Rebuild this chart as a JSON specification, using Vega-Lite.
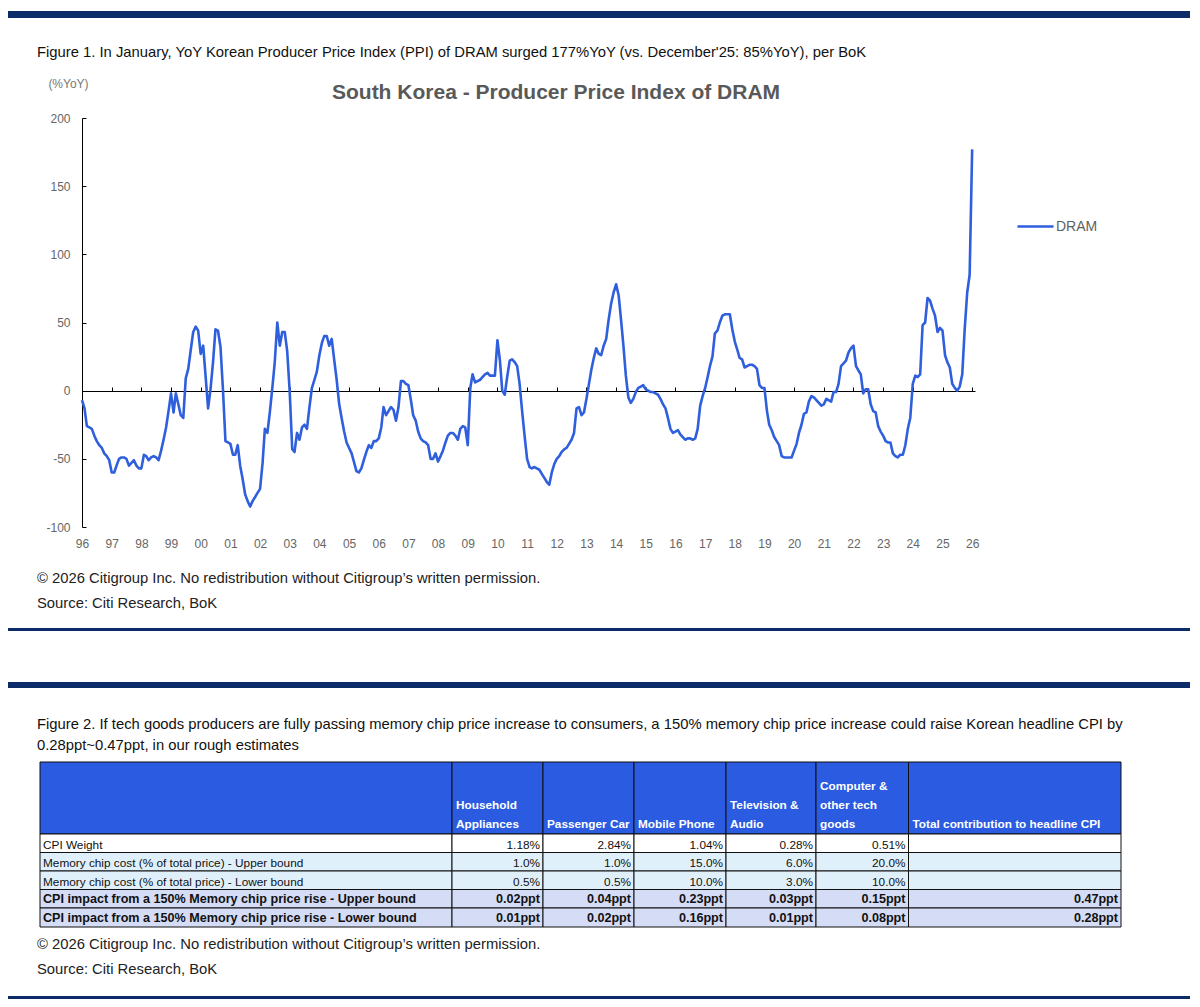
{
  "$schema": "https://vega.github.io/schema/vega-lite/v6.json",
  "background": "white",
  "padding": {"left": 8, "top": 11, "right": 10, "bottom": 8},
  "spacing": 0,
  "bounds": "flush",
  "resolve": {"scale": {"color": "independent"}, "legend": {"color": "independent"}},
  "config": {
    "view": {"stroke": null},
    "title": {"font": "Liberation Sans", "fontWeight": "normal", "color": "#111111", "anchor": "start"}
  },
  "vconcat": [
    {
      "width": 1182,
      "height": 7,
      "view": {"fill": "#0b2b69"},
      "title": {
        "text": "Figure 1. In January, YoY Korean Producer Price Index (PPI) of DRAM surged 177%YoY (vs. December'25: 85%YoY), per BoK",
        "orient": "bottom", "anchor": "start", "dx": 29, "offset": 27, "fontSize": 14.8
      },
      "data": {"values": []},
      "mark": "rule",
      "encoding": {}
    },
    {
      "width": 1182,
      "height": 610,
      "title": {
        "text": "South Korea - Producer Price Index of DRAM",
        "orient": "top", "anchor": "middle", "dx": -43, "offset": -85,
        "font": "Liberation Sans", "fontSize": 21, "fontWeight": "bold", "color": "#595959"
      },
      "resolve": {"axis": {"x": "independent"}},
      "layer": [
        {
          "data": {"values": [
            {"d":"1996-01","v":-7},{"d":"1996-02","v":-13},{"d":"1996-03","v":-26},{"d":"1996-04","v":-27},{"d":"1996-05","v":-28},{"d":"1996-06","v":-33},{"d":"1996-07","v":-37},{"d":"1996-08","v":-40},{"d":"1996-09","v":-42},{"d":"1996-10","v":-46},{"d":"1996-11","v":-48},{"d":"1996-12","v":-51},
            {"d":"1997-01","v":-60},{"d":"1997-02","v":-60},{"d":"1997-03","v":-55},{"d":"1997-04","v":-50},{"d":"1997-05","v":-49},{"d":"1997-06","v":-49},{"d":"1997-07","v":-50},{"d":"1997-08","v":-55},{"d":"1997-09","v":-53},{"d":"1997-10","v":-51},{"d":"1997-11","v":-55},{"d":"1997-12","v":-57},
            {"d":"1998-01","v":-57},{"d":"1998-02","v":-47},{"d":"1998-03","v":-48},{"d":"1998-04","v":-51},{"d":"1998-05","v":-49},{"d":"1998-06","v":-48},{"d":"1998-07","v":-49},{"d":"1998-08","v":-51},{"d":"1998-09","v":-44},{"d":"1998-10","v":-36},{"d":"1998-11","v":-27},{"d":"1998-12","v":-15},
            {"d":"1999-01","v":-2},{"d":"1999-02","v":-16},{"d":"1999-03","v":-2},{"d":"1999-04","v":-10},{"d":"1999-05","v":-18},{"d":"1999-06","v":-20},{"d":"1999-07","v":9},{"d":"1999-08","v":16},{"d":"1999-09","v":30},{"d":"1999-10","v":43},{"d":"1999-11","v":47},{"d":"1999-12","v":44},
            {"d":"2000-01","v":27},{"d":"2000-02","v":33},{"d":"2000-03","v":11},{"d":"2000-04","v":-13},{"d":"2000-05","v":1},{"d":"2000-06","v":21},{"d":"2000-07","v":45},{"d":"2000-08","v":44},{"d":"2000-09","v":32},{"d":"2000-10","v":1},{"d":"2000-11","v":-37},{"d":"2000-12","v":-38},
            {"d":"2001-01","v":-39},{"d":"2001-02","v":-47},{"d":"2001-03","v":-47},{"d":"2001-04","v":-40},{"d":"2001-05","v":-55},{"d":"2001-06","v":-65},{"d":"2001-07","v":-76},{"d":"2001-08","v":-81},{"d":"2001-09","v":-85},{"d":"2001-10","v":-81},{"d":"2001-11","v":-78},{"d":"2001-12","v":-75},
            {"d":"2002-01","v":-72},{"d":"2002-02","v":-53},{"d":"2002-03","v":-28},{"d":"2002-04","v":-31},{"d":"2002-05","v":-16},{"d":"2002-06","v":2},{"d":"2002-07","v":21},{"d":"2002-08","v":50},{"d":"2002-09","v":33},{"d":"2002-10","v":43},{"d":"2002-11","v":43},{"d":"2002-12","v":29},
            {"d":"2003-01","v":-1},{"d":"2003-02","v":-43},{"d":"2003-03","v":-45},{"d":"2003-04","v":-31},{"d":"2003-05","v":-36},{"d":"2003-06","v":-27},{"d":"2003-07","v":-25},{"d":"2003-08","v":-28},{"d":"2003-09","v":-12},{"d":"2003-10","v":2},{"d":"2003-11","v":8},{"d":"2003-12","v":14},
            {"d":"2004-01","v":26},{"d":"2004-02","v":35},{"d":"2004-03","v":40},{"d":"2004-04","v":40},{"d":"2004-05","v":33},{"d":"2004-06","v":38},{"d":"2004-07","v":23},{"d":"2004-08","v":8},{"d":"2004-09","v":-10},{"d":"2004-10","v":-20},{"d":"2004-11","v":-30},{"d":"2004-12","v":-38},
            {"d":"2005-01","v":-42},{"d":"2005-02","v":-46},{"d":"2005-03","v":-52},{"d":"2005-04","v":-59},{"d":"2005-05","v":-60},{"d":"2005-06","v":-57},{"d":"2005-07","v":-51},{"d":"2005-08","v":-45},{"d":"2005-09","v":-40},{"d":"2005-10","v":-42},{"d":"2005-11","v":-37},{"d":"2005-12","v":-37},
            {"d":"2006-01","v":-35},{"d":"2006-02","v":-27},{"d":"2006-03","v":-12},{"d":"2006-04","v":-18},{"d":"2006-05","v":-15},{"d":"2006-06","v":-12},{"d":"2006-07","v":-14},{"d":"2006-08","v":-22},{"d":"2006-09","v":-12},{"d":"2006-10","v":7},{"d":"2006-11","v":7},{"d":"2006-12","v":5},
            {"d":"2007-01","v":4},{"d":"2007-02","v":-7},{"d":"2007-03","v":-18},{"d":"2007-04","v":-22},{"d":"2007-05","v":-30},{"d":"2007-06","v":-35},{"d":"2007-07","v":-37},{"d":"2007-08","v":-38},{"d":"2007-09","v":-40},{"d":"2007-10","v":-50},{"d":"2007-11","v":-50},{"d":"2007-12","v":-46},
            {"d":"2008-01","v":-52},{"d":"2008-02","v":-48},{"d":"2008-03","v":-44},{"d":"2008-04","v":-38},{"d":"2008-05","v":-33},{"d":"2008-06","v":-31},{"d":"2008-07","v":-31},{"d":"2008-08","v":-33},{"d":"2008-09","v":-36},{"d":"2008-10","v":-28},{"d":"2008-11","v":-26},{"d":"2008-12","v":-27},
            {"d":"2009-01","v":-40},{"d":"2009-02","v":2},{"d":"2009-03","v":12},{"d":"2009-04","v":6},{"d":"2009-05","v":7},{"d":"2009-06","v":8},{"d":"2009-07","v":10},{"d":"2009-08","v":12},{"d":"2009-09","v":13},{"d":"2009-10","v":11},{"d":"2009-11","v":11},{"d":"2009-12","v":11},
            {"d":"2010-01","v":37},{"d":"2010-02","v":22},{"d":"2010-03","v":0},{"d":"2010-04","v":-3},{"d":"2010-05","v":10},{"d":"2010-06","v":22},{"d":"2010-07","v":23},{"d":"2010-08","v":21},{"d":"2010-09","v":18},{"d":"2010-10","v":5},{"d":"2010-11","v":-15},{"d":"2010-12","v":-33},
            {"d":"2011-01","v":-50},{"d":"2011-02","v":-56},{"d":"2011-03","v":-57},{"d":"2011-04","v":-56},{"d":"2011-05","v":-57},{"d":"2011-06","v":-58},{"d":"2011-07","v":-61},{"d":"2011-08","v":-64},{"d":"2011-09","v":-67},{"d":"2011-10","v":-69},{"d":"2011-11","v":-60},{"d":"2011-12","v":-54},
            {"d":"2012-01","v":-50},{"d":"2012-02","v":-48},{"d":"2012-03","v":-45},{"d":"2012-04","v":-43},{"d":"2012-05","v":-42},{"d":"2012-06","v":-39},{"d":"2012-07","v":-36},{"d":"2012-08","v":-31},{"d":"2012-09","v":-13},{"d":"2012-10","v":-12},{"d":"2012-11","v":-18},{"d":"2012-12","v":-16},
            {"d":"2013-01","v":-6},{"d":"2013-02","v":5},{"d":"2013-03","v":15},{"d":"2013-04","v":24},{"d":"2013-05","v":31},{"d":"2013-06","v":27},{"d":"2013-07","v":26},{"d":"2013-08","v":33},{"d":"2013-09","v":38},{"d":"2013-10","v":52},{"d":"2013-11","v":64},{"d":"2013-12","v":72},
            {"d":"2014-01","v":78},{"d":"2014-02","v":70},{"d":"2014-03","v":53},{"d":"2014-04","v":33},{"d":"2014-05","v":11},{"d":"2014-06","v":-5},{"d":"2014-07","v":-9},{"d":"2014-08","v":-6},{"d":"2014-09","v":-1},{"d":"2014-10","v":2},{"d":"2014-11","v":3},{"d":"2014-12","v":4},
            {"d":"2015-01","v":1},{"d":"2015-02","v":0},{"d":"2015-03","v":-1},{"d":"2015-04","v":-1},{"d":"2015-05","v":-2},{"d":"2015-06","v":-3},{"d":"2015-07","v":-6},{"d":"2015-08","v":-10},{"d":"2015-09","v":-13},{"d":"2015-10","v":-20},{"d":"2015-11","v":-28},{"d":"2015-12","v":-31},
            {"d":"2016-01","v":-30},{"d":"2016-02","v":-29},{"d":"2016-03","v":-32},{"d":"2016-04","v":-34},{"d":"2016-05","v":-36},{"d":"2016-06","v":-35},{"d":"2016-07","v":-35},{"d":"2016-08","v":-36},{"d":"2016-09","v":-35},{"d":"2016-10","v":-28},{"d":"2016-11","v":-11},{"d":"2016-12","v":-4},
            {"d":"2017-01","v":2},{"d":"2017-02","v":10},{"d":"2017-03","v":18},{"d":"2017-04","v":25},{"d":"2017-05","v":42},{"d":"2017-06","v":44},{"d":"2017-07","v":50},{"d":"2017-08","v":55},{"d":"2017-09","v":56},{"d":"2017-10","v":56},{"d":"2017-11","v":56},{"d":"2017-12","v":45},
            {"d":"2018-01","v":36},{"d":"2018-02","v":30},{"d":"2018-03","v":24},{"d":"2018-04","v":23},{"d":"2018-05","v":17},{"d":"2018-06","v":18},{"d":"2018-07","v":19},{"d":"2018-08","v":19},{"d":"2018-09","v":18},{"d":"2018-10","v":16},{"d":"2018-11","v":4},{"d":"2018-12","v":2},
            {"d":"2019-01","v":2},{"d":"2019-02","v":-15},{"d":"2019-03","v":-25},{"d":"2019-04","v":-29},{"d":"2019-05","v":-34},{"d":"2019-06","v":-37},{"d":"2019-07","v":-40},{"d":"2019-08","v":-48},{"d":"2019-09","v":-49},{"d":"2019-10","v":-49},{"d":"2019-11","v":-49},{"d":"2019-12","v":-49},
            {"d":"2020-01","v":-44},{"d":"2020-02","v":-39},{"d":"2020-03","v":-31},{"d":"2020-04","v":-25},{"d":"2020-05","v":-17},{"d":"2020-06","v":-16},{"d":"2020-07","v":-8},{"d":"2020-08","v":-4},{"d":"2020-09","v":-5},{"d":"2020-10","v":-7},{"d":"2020-11","v":-9},{"d":"2020-12","v":-11},
            {"d":"2021-01","v":-10},{"d":"2021-02","v":-6},{"d":"2021-03","v":-7},{"d":"2021-04","v":-8},{"d":"2021-05","v":-1},{"d":"2021-06","v":-1},{"d":"2021-07","v":5},{"d":"2021-08","v":18},{"d":"2021-09","v":20},{"d":"2021-10","v":22},{"d":"2021-11","v":28},{"d":"2021-12","v":31},
            {"d":"2022-01","v":33},{"d":"2022-02","v":18},{"d":"2022-03","v":15},{"d":"2022-04","v":12},{"d":"2022-05","v":-2},{"d":"2022-06","v":1},{"d":"2022-07","v":1},{"d":"2022-08","v":-10},{"d":"2022-09","v":-15},{"d":"2022-10","v":-16},{"d":"2022-11","v":-26},{"d":"2022-12","v":-30},
            {"d":"2023-01","v":-33},{"d":"2023-02","v":-37},{"d":"2023-03","v":-38},{"d":"2023-04","v":-38},{"d":"2023-05","v":-46},{"d":"2023-06","v":-48},{"d":"2023-07","v":-49},{"d":"2023-08","v":-47},{"d":"2023-09","v":-47},{"d":"2023-10","v":-40},{"d":"2023-11","v":-28},{"d":"2023-12","v":-20},
            {"d":"2024-01","v":5},{"d":"2024-02","v":11},{"d":"2024-03","v":10},{"d":"2024-04","v":12},{"d":"2024-05","v":48},{"d":"2024-06","v":50},{"d":"2024-07","v":68},{"d":"2024-08","v":66},{"d":"2024-09","v":60},{"d":"2024-10","v":55},{"d":"2024-11","v":43},{"d":"2024-12","v":46},
            {"d":"2025-01","v":44},{"d":"2025-02","v":26},{"d":"2025-03","v":21},{"d":"2025-04","v":17},{"d":"2025-05","v":5},{"d":"2025-06","v":2},{"d":"2025-07","v":0},{"d":"2025-08","v":3},{"d":"2025-09","v":12},{"d":"2025-10","v":45},{"d":"2025-11","v":72},{"d":"2025-12","v":85},
            {"d":"2026-01","v":177}
          ]},
          "mark": {"type": "line", "strokeWidth": 2.6, "strokeJoin": "round"},
          "encoding": {
            "x": {
              "field": "d", "type": "temporal",
              "scale": {"type": "utc", "domain": [{"year": 1996, "month": 1, "date": 1, "utc": true}, {"year": 2026, "month": 2, "date": 5, "utc": true}], "range": [74, 967]},
              "axis": {
                "orient": "bottom", "offset": -101, "domain": false, "ticks": false, "grid": false,
                "labelExpr": "utcFormat(datum.value, '%y')", "tickCount": {"interval": "year", "step": 1},
                "labelFont": "Liberation Sans", "labelFontSize": 12, "labelColor": "#666666",
                "labelPadding": 11, "labelOverlap": false, "labelFlush": false, "title": null
              }
            },
            "y": {
              "field": "v", "type": "quantitative",
              "scale": {"domain": [-100, 200], "range": [509, 100], "nice": false, "zero": false},
              "axis": {
                "orient": "left", "offset": -74, "values": [-100, -50, 0, 50, 100, 150, 200],
                "labelExpr": "'' + datum.value",
                "grid": false, "domainColor": "#000000", "domainWidth": 1,
                "tickColor": "#000000", "tickSize": -4, "labelPadding": 16,
                "labelFont": "Liberation Sans", "labelFontSize": 12, "labelColor": "#666666",
                "title": "(%YoY)", "titleAngle": 0, "titleAlign": "center", "titleBaseline": "middle",
                "titleX": -14, "titleY": 65, "titleFont": "Liberation Sans", "titleFontSize": 12,
                "titleFontWeight": "normal", "titleColor": "#777777"
              }
            },
            "color": {
              "datum": "DRAM",
              "scale": {"domain": ["DRAM"], "range": ["#2f5fdc"]},
              "legend": {
                "orient": "none", "legendX": 1008, "legendY": 189, "title": null, "padding": 0,
                "symbolType": "stroke", "symbolSize": 1300, "symbolStrokeWidth": 2.6,
                "labelFont": "Liberation Sans", "labelFontSize": 14, "labelColor": "#5f5f5f", "labelOffset": 1
              }
            }
          }
        },
        {
          "data": {"values": []},
          "mark": "rule",
          "encoding": {
            "x": {
              "field": "d", "type": "temporal",
              "axis": {
                "orient": "top", "offset": -373, "domain": true, "domainColor": "#000000", "domainWidth": 1,
                "ticks": true, "tickSize": 4, "tickColor": "#000000", "labels": false, "grid": false,
                "tickCount": {"interval": "year", "step": 1}, "title": null
              }
            }
          }
        }
      ]
    },
    {
      "width": 1182,
      "height": 3,
      "view": {"fill": "#0b2b69"},
      "title": {
        "text": "© 2026 Citigroup Inc. No redistribution without Citigroup’s written permission.",
        "subtitle": "Source: Citi Research, BoK",
        "orient": "top", "anchor": "start", "dx": 29, "offset": 17, "fontSize": 14.8, "color": "#222222",
        "subtitleFont": "Liberation Sans", "subtitleFontSize": 14.8,
        "subtitleColor": "#222222", "subtitlePadding": 10
      },
      "data": {"values": []},
      "mark": "rule",
      "encoding": {}
    },
    {
      "width": 1182,
      "height": 51,
      "data": {"values": []},
      "mark": "rule",
      "encoding": {}
    },
    {
      "width": 1182,
      "height": 6,
      "view": {"fill": "#0b2b69"},
      "title": {
        "text": ["Figure 2. If tech goods producers are fully passing memory chip price increase to consumers, a 150% memory chip price increase could raise Korean headline CPI by", "0.28ppt~0.47ppt, in our rough estimates"],
        "orient": "bottom", "anchor": "start", "dx": 29, "offset": 29, "fontSize": 14.8, "lineHeight": 21
      },
      "data": {"values": []},
      "mark": "rule",
      "encoding": {}
    },
    {
      "width": 1182,
      "height": 308,
      "data": {"values": [
        {"r": 0, "c": 0, "t": ""},
        {"r": 0, "c": 1, "t": "Household\nAppliances"},
        {"r": 0, "c": 2, "t": "Passenger Car"},
        {"r": 0, "c": 3, "t": "Mobile Phone"},
        {"r": 0, "c": 4, "t": "Television &\nAudio"},
        {"r": 0, "c": 5, "t": "Computer &\nother tech\ngoods"},
        {"r": 0, "c": 6, "t": "Total contribution to headline CPI"},
        {"r": 1, "c": 0, "t": "CPI Weight"},
        {"r": 1, "c": 1, "t": "1.18%"},
        {"r": 1, "c": 2, "t": "2.84%"},
        {"r": 1, "c": 3, "t": "1.04%"},
        {"r": 1, "c": 4, "t": "0.28%"},
        {"r": 1, "c": 5, "t": "0.51%"},
        {"r": 1, "c": 6, "t": ""},
        {"r": 2, "c": 0, "t": "Memory chip cost (% of total price) - Upper bound"},
        {"r": 2, "c": 1, "t": "1.0%"},
        {"r": 2, "c": 2, "t": "1.0%"},
        {"r": 2, "c": 3, "t": "15.0%"},
        {"r": 2, "c": 4, "t": "6.0%"},
        {"r": 2, "c": 5, "t": "20.0%"},
        {"r": 2, "c": 6, "t": ""},
        {"r": 3, "c": 0, "t": "Memory chip cost (% of total price) - Lower bound"},
        {"r": 3, "c": 1, "t": "0.5%"},
        {"r": 3, "c": 2, "t": "0.5%"},
        {"r": 3, "c": 3, "t": "10.0%"},
        {"r": 3, "c": 4, "t": "3.0%"},
        {"r": 3, "c": 5, "t": "10.0%"},
        {"r": 3, "c": 6, "t": ""},
        {"r": 4, "c": 0, "t": "CPI impact from a 150% Memory chip price rise - Upper bound"},
        {"r": 4, "c": 1, "t": "0.02ppt"},
        {"r": 4, "c": 2, "t": "0.04ppt"},
        {"r": 4, "c": 3, "t": "0.23ppt"},
        {"r": 4, "c": 4, "t": "0.03ppt"},
        {"r": 4, "c": 5, "t": "0.15ppt"},
        {"r": 4, "c": 6, "t": "0.47ppt"},
        {"r": 5, "c": 0, "t": "CPI impact from a 150% Memory chip price rise - Lower bound"},
        {"r": 5, "c": 1, "t": "0.01ppt"},
        {"r": 5, "c": 2, "t": "0.02ppt"},
        {"r": 5, "c": 3, "t": "0.16ppt"},
        {"r": 5, "c": 4, "t": "0.01ppt"},
        {"r": 5, "c": 5, "t": "0.08ppt"},
        {"r": 5, "c": 6, "t": "0.28ppt"}
      ]},
      "transform": [
        {"calculate": "datum.c + 1", "as": "c1"},
        {"calculate": "datum.r + 1", "as": "r1"},
        {"calculate": "length(split(datum.t, '\\n'))", "as": "lines"}
      ],
      "encoding": {
        "y": {"field": "r1", "type": "quantitative", "scale": {"domain": [0, 1, 2, 3, 4, 5, 6], "range": [74, 146, 164.5, 183, 201.5, 220, 239], "nice": false, "zero": false}, "axis": null}
      },
      "layer": [
        {
          "mark": {"type": "rect", "stroke": "#111111", "strokeWidth": 1},
          "encoding": {
            "x": {"field": "c", "type": "quantitative", "scale": {"domain": [0, 1, 2, 3, 4, 5, 6, 7], "range": [32, 444, 535, 626, 718, 808, 900.5, 1113], "nice": false, "zero": false}, "axis": null},
            "x2": {"field": "c1"},
            "y": {"field": "r", "type": "quantitative"},
            "y2": {"field": "r1"},
            "color": {"field": "r", "type": "ordinal", "scale": {"domain": [0, 1, 2, 3, 4, 5], "range": ["#2b5be0", "#ffffff", "#e0f0fb", "#e0f0fb", "#d5dcf6", "#d5dcf6"]}, "legend": null}
          }
        },
        {
          "transform": [{"filter": "datum.r == 0 && datum.lines == 1"}],
          "mark": {"type": "text", "align": "left", "baseline": "middle", "dx": 4, "dy": 62, "lineBreak": "\n", "lineHeight": 19, "font": "Liberation Sans", "fontSize": 11.8, "fontWeight": "bold", "color": "#ffffff"},
          "encoding": {"x": {"field": "c", "type": "quantitative"}, "y": {"field": "r", "type": "quantitative"}, "text": {"field": "t"}}
        },
        {
          "transform": [{"filter": "datum.r == 0 && datum.lines == 2"}],
          "mark": {"type": "text", "align": "left", "baseline": "middle", "dx": 4, "dy": 43, "lineBreak": "\n", "lineHeight": 19, "font": "Liberation Sans", "fontSize": 11.8, "fontWeight": "bold", "color": "#ffffff"},
          "encoding": {"x": {"field": "c", "type": "quantitative"}, "y": {"field": "r", "type": "quantitative"}, "text": {"field": "t"}}
        },
        {
          "transform": [{"filter": "datum.r == 0 && datum.lines == 3"}],
          "mark": {"type": "text", "align": "left", "baseline": "middle", "dx": 4, "dy": 24, "lineBreak": "\n", "lineHeight": 19, "font": "Liberation Sans", "fontSize": 11.8, "fontWeight": "bold", "color": "#ffffff"},
          "encoding": {"x": {"field": "c", "type": "quantitative"}, "y": {"field": "r", "type": "quantitative"}, "text": {"field": "t"}}
        },
        {
          "transform": [{"filter": "datum.r >= 1 && datum.r <= 3 && datum.c == 0"}],
          "mark": {"type": "text", "align": "left", "baseline": "bottom", "dx": 3, "dy": -2, "font": "Liberation Sans", "fontSize": 11.8, "color": "#111111"},
          "encoding": {"x": {"field": "c", "type": "quantitative"}, "text": {"field": "t"}}
        },
        {
          "transform": [{"filter": "datum.r >= 1 && datum.r <= 3 && datum.c > 0"}],
          "mark": {"type": "text", "align": "right", "baseline": "bottom", "dx": -3, "dy": -2, "font": "Liberation Sans", "fontSize": 11.8, "color": "#111111"},
          "encoding": {"x": {"field": "c1", "type": "quantitative"}, "text": {"field": "t"}}
        },
        {
          "transform": [{"filter": "datum.r >= 4 && datum.c == 0"}],
          "mark": {"type": "text", "align": "left", "baseline": "bottom", "dx": 3, "dy": -2, "font": "Liberation Sans", "fontSize": 12.6, "fontWeight": "bold", "color": "#111111"},
          "encoding": {"x": {"field": "c", "type": "quantitative"}, "text": {"field": "t"}}
        },
        {
          "transform": [{"filter": "datum.r >= 4 && datum.c > 0"}],
          "mark": {"type": "text", "align": "right", "baseline": "bottom", "dx": -3, "dy": -2, "font": "Liberation Sans", "fontSize": 12.6, "fontWeight": "bold", "color": "#111111"},
          "encoding": {"x": {"field": "c1", "type": "quantitative"}, "text": {"field": "t"}}
        }
      ]
    },
    {
      "width": 1182,
      "height": 3,
      "view": {"fill": "#0b2b69"},
      "title": {
        "text": "© 2026 Citigroup Inc. No redistribution without Citigroup’s written permission.",
        "subtitle": "Source: Citi Research, BoK",
        "orient": "top", "anchor": "start", "dx": 29, "offset": 19, "fontSize": 14.8, "color": "#222222",
        "subtitleFont": "Liberation Sans", "subtitleFontSize": 14.8,
        "subtitleColor": "#222222", "subtitlePadding": 10
      },
      "data": {"values": []},
      "mark": "rule",
      "encoding": {}
    }
  ]
}
